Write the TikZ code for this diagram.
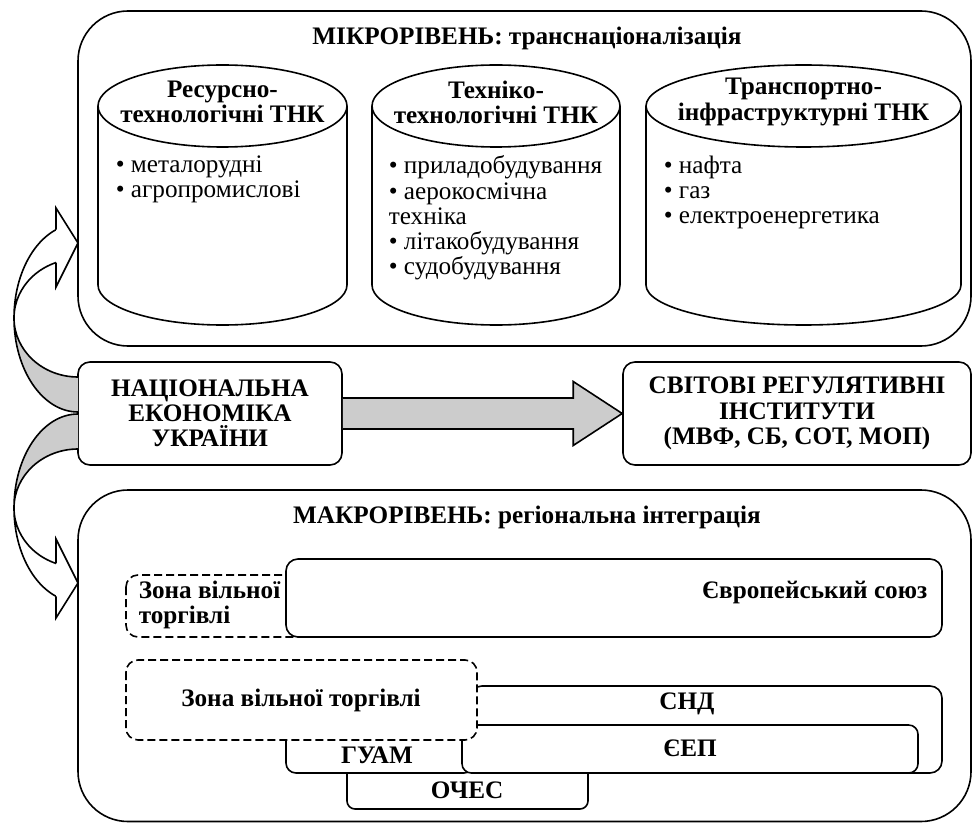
\documentclass[tikz,border=0pt]{standalone}
\usepackage{fontspec}
\setmainfont{Liberation Serif}
\usetikzlibrary{calc}

\tikzset{every picture/.style={line width=1.2pt}}
\tikzset{
  lbl/.style={font=\fontsize{18.9}{18.9}\selectfont, inner sep=0pt, align=left},
  hdr/.style={font=\fontsize{18.9}{18.9}\selectfont\bfseries, inner sep=0pt, align=center},
  rbox/.style={draw, fill=white, rounded corners=9pt},
  zone/.style={draw, fill=white, rounded corners=9pt, dash pattern=on 6pt off 3pt},
}

% can: #1 centre x, #2 half width
\newcommand{\drawcan}[2]{%
  \draw (#1-#2,106) -- (#1-#2,285) arc[start angle=180, end angle=0, x radius=#2, y radius=40] -- (#1+#2,106);
  \draw (#1,106) ellipse [x radius=#2, y radius=41];
}

% curved ribbon arrow: #1 centre y of the ellipses, #2 = 1 (up) or -1 (down)
\newcommand{\ribbon}[2]{%
  \begin{scope}
    \clip (0,#1) rectangle (78,#1+#2*110);
    \draw[fill=gray!40, even odd rule] (78,#1) ellipse [x radius=64, y radius=94] (78,#1) ellipse [x radius=64, y radius=59];
  \end{scope}
  \begin{scope}
    \clip (0,#1) rectangle (56,#1-#2*110);
    \draw[fill=white, even odd rule] (78,#1) ellipse [x radius=64, y radius=94] (78,#1) ellipse [x radius=64, y radius=59];
  \end{scope}
  \draw[fill=white, line join=miter] (56,#1-#2*88.3) -- (56,#1-#2*110) -- (78,#1-#2*75) -- (56,#1-#2*31) -- (56,#1-#2*55.4);
}

\begin{document}
\begin{tikzpicture}[x=0.75pt,y=0.75pt,yscale=-1,xscale=1]
\useasboundingbox (0,0) rectangle (973,823);

%Shape: Rounded Rect (micro level)
\draw[rounded corners=37.5pt] (78,11) rectangle (971,346);
% Text Node
\node[hdr] (micro) at (527,38) {МІКРОРІВЕНЬ: транснаціоналізація};

%Shape: Can
\drawcan{222.5}{124.5}
\drawcan{496}{124}
\drawcan{803.5}{157.5}

% Text Node
\node[hdr] (resT) at (222.5,102) {Ресурсно-\\технологічні ТНК};
\node[lbl, anchor=north west] (resL) at (115,155) {• металорудні\\• агропромислові};
% Text Node
\node[hdr] (tecT) at (496,102) {Техніко-\\технологічні ТНК};
\node[lbl, anchor=north west] (tecL) at (388,155) {• приладобудування\\• аерокосмічна\\техніка\\• літакобудування\\• судобудування};
% Text Node
\node[hdr] (trnT) at (803.5,102) {Транспортно-\\інфраструктурні ТНК};
\node[lbl, anchor=north west] (trnL) at (663,155) {• нафта\\• газ\\• електроенергетика};

% middle row
\node[hdr, draw, rounded corners=9pt, minimum width=264*0.75pt, minimum height=103*0.75pt] (nat) at (210,413.5) {НАЦІОНАЛЬНА\\ЕКОНОМІКА\\УКРАЇНИ};
\node[hdr, draw, rounded corners=9pt, minimum width=348*0.75pt, minimum height=103*0.75pt] (world) at (797,413.5) {СВІТОВІ РЕГУЛЯТИВНІ\\ІНСТИТУТИ\\(МВФ, СБ, СОТ, МОП)};

%Shape: Right Arrow
\draw[fill=gray!40] ($(nat.east)+(0,-15.5)$) -- ($(world.west)+(-49,-15.5)$) -- ($(world.west)+(-49,-32)$) -- (world.west)
  -- ($(world.west)+(-49,32)$) -- ($(world.west)+(-49,15.5)$) -- ($(nat.east)+(0,15.5)$);

%Shape: Curved Right Arrow
\ribbon{318}{1}
\ribbon{508}{-1}

%Shape: Rounded Rect (macro level)
\draw[rounded corners=37.5pt] (78,490) rectangle (971,821.5);
% Text Node
\node[hdr] (macro) at (527,517) {МАКРОРІВЕНЬ: регіональна інтеграція};

% EU and its free trade zone
\draw[zone] (126,575) rectangle (330,637);
\draw[rbox] (286,559) rectangle (942,637);
\node[hdr, align=left, anchor=west] (ftz1) at (138,605) {Зона вільної\\торгівлі};
\node[hdr, anchor=east] (eu) at (928,593) {Європейський союз};

% CIS group
\draw[rbox, rounded corners=6pt] (347,750) rectangle (588,809);
\draw[rbox, rounded corners=7.5pt] (286,725) rectangle (474,773);
\draw[rbox] (470,686) rectangle (942,773);
\draw[rbox, rounded corners=7pt] (462,725) rectangle (918,773);
\draw[zone] (126,660) rectangle (477,740);
\node[hdr] (ftz2) at (301,700) {Зона вільної торгівлі};
\node[hdr] (cis) at (687,704) {СНД};
\node[hdr] (ces) at (690,748) {ЄЕП};
\node[hdr] (guam) at (377,755) {ГУАМ};
\node[hdr] (bsec) at (467,790) {ОЧЕС};

\end{tikzpicture}
\end{document}
